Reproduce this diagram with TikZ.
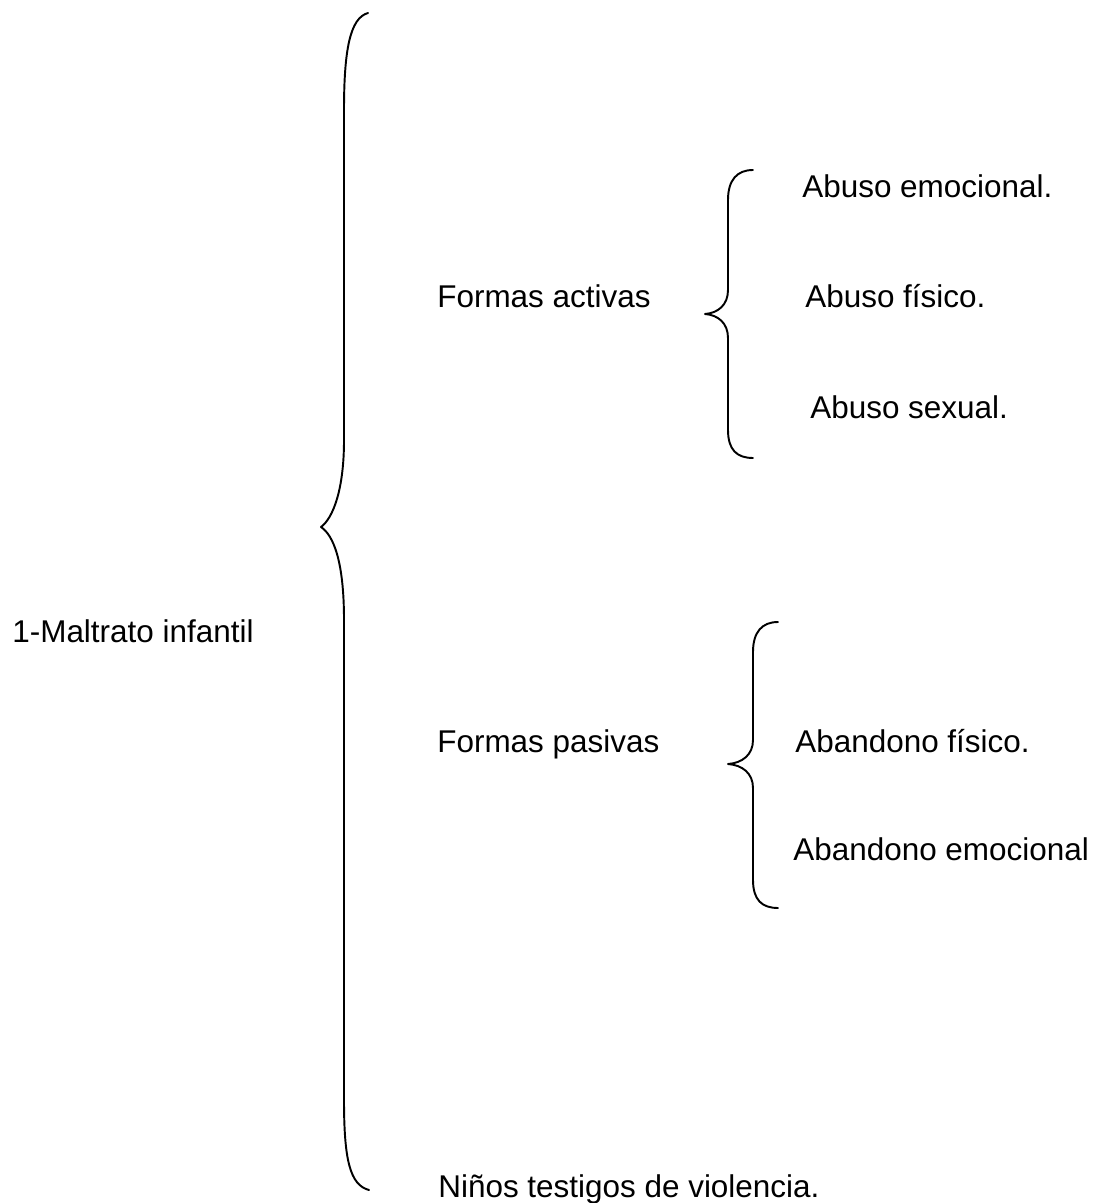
\documentclass[tikz,border=0pt]{standalone}
\usepackage{fontspec}
\setmainfont{Liberation Sans}
\usepackage{tikz}
\usetikzlibrary{positioning}

\begin{document}
\begin{tikzpicture}[x=0.02cm, y=-0.02cm]
\tikzset{
mylabel/.style={
  anchor=base west,
  inner sep=0pt,
  font=\fontsize{17.9}{21}\selectfont
  },
mybrace/.style={
  line width=1.1pt,
  line cap=round,
  line join=round
  }
}
\useasboundingbox (0,0) rectangle (1098,1203);

\node[mylabel] (maltrato) at (12,642) {1-Maltrato infantil};
\node[mylabel] (activas)  at (437,307) {Formas activas};
\node[mylabel] (pasivas)  at (437,752) {Formas pasivas};
\node[mylabel] (testigos) at (438,1197) {Niños testigos de violencia.};

\node[mylabel] (abemo)  at (802,197) {Abuso emocional.};
\node[mylabel] (abfis)  at (805,307) {Abuso físico.};
\node[mylabel] (absex)  at (810,418) {Abuso sexual.};

\node[mylabel] (anfis)  at (795,752) {Abandono físico.};
\node[mylabel] (anemo)  at (793,860) {Abandono emocional};

% big brace
\draw[mybrace] (368,13) .. controls (350,18) and (344,50) .. (344,110)
    -- (344,440) .. controls (344,490) and (333,518) .. (321,527)
    .. controls (333,535) and (344,560) .. (344,620)
    -- (344,1100) .. controls (344,1160) and (350,1185) .. (369,1190);

% brace of the active forms
\draw[mybrace] (753,170) .. controls (737,170) and (728,180) .. (728,200)
    -- (728,290) .. controls (728,305) and (718,313) .. (705,314)
    .. controls (718,315) and (728,323) .. (728,338)
    -- (728,430) .. controls (728,450) and (737,458) .. (753,458);

% brace of the passive forms
\draw[mybrace] (778,622) .. controls (762,622) and (753,632) .. (753,652)
    -- (753,740) .. controls (753,755) and (742,763) .. (728,764)
    .. controls (742,765) and (753,773) .. (753,788)
    -- (753,880) .. controls (753,900) and (762,908) .. (778,908);

\end{tikzpicture}
\end{document}
